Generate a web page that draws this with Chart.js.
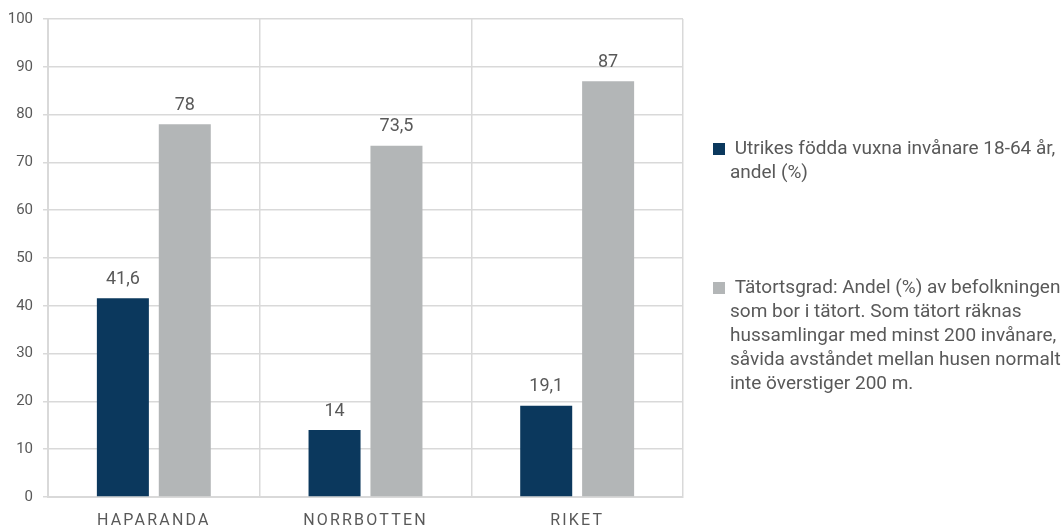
<!DOCTYPE html>
<html lang="sv">
<head>
<meta charset="utf-8">
<title>Utrikes födda och tätortsgrad</title>
<script src="https://cdn.jsdelivr.net/npm/chart.js@4/dist/chart.umd.min.js"></script>
<style>
  html, body { margin: 0; padding: 0; background: #ffffff; }
  #wrap { position: relative; width: 1064px; height: 529px; }
</style>
</head>
<body>
<div id="wrap"><canvas id="chart" width="1064" height="529"></canvas></div>
<script>
// Kategorier och serier
const categories = ['HAPARANDA', 'NORRBOTTEN', 'RIKET'];
const utrikesFodda = [41.6, 14, 19.1];
const tatortsgrad = [78, 73.5, 87];
const yTicks = [0, 10, 20, 30, 40, 50, 60, 70, 80, 90, 100];

// Förklaringstexter, radbrutna
const labelUtrikes = [' Utrikes födda vuxna invånare 18-64 år,', 'andel (%)'];
const labelTatort = [
  ' Tätortsgrad: Andel (%) av befolkningen',
  'som bor i tätort. Som tätort räknas',
  'hussamlingar med minst 200 invånare,',
  'såvida avståndet mellan husen normalt',
  'inte överstiger 200 m.'
];

const FONT = '"Roboto", "Liberation Sans", sans-serif';
const TEXT = '#595959';
const GRID = '#d9d9d9';
const NAVY = '#0b385d';
const GREY = '#b3b6b7';

const fmt = v => String(v).replace('.', ',');

// Värdeetiketter ovanför staplarna
const valueLabels = {
  id: 'valueLabels',
  afterDatasetsDraw(chart) {
    const ctx = chart.ctx;
    ctx.save();
    ctx.font = '18px ' + FONT;
    ctx.fillStyle = TEXT;
    ctx.textAlign = 'center';
    ctx.textBaseline = 'bottom';
    chart.data.datasets.forEach((ds, i) => {
      chart.getDatasetMeta(i).data.forEach((bar, j) => {
        ctx.fillText(fmt(ds.data[j]), bar.x, bar.y - 10);
      });
    });
    ctx.restore();
  }
};

// Spärrade kategorietiketter på x-axeln
const spacedLabels = {
  id: 'spacedLabels',
  beforeDraw(chart) {
    const s = chart.scales.x;
    if (s && !s.__spaced) {
      const orig = s.drawLabels.bind(s);
      s.drawLabels = (area) => {
        const c = s.ctx;
        c.save();
        c.letterSpacing = '2.2px';
        orig(area);
        c.restore();
      };
      s.__spaced = true;
    }
  }
};

// Förklaring till höger med flerradiga texter
const sideLegend = {
  id: 'sideLegend',
  afterDraw(chart) {
    const ctx = chart.ctx;
    const boxX = 713, textX = 730, lineH = 24, box = 12;
    const startY = [149, 288];
    ctx.save();
    ctx.font = '19px ' + FONT;
    ctx.textBaseline = 'middle';
    chart.data.datasets.forEach((ds, i) => {
      const y0 = startY[i];
      ctx.fillStyle = ds.backgroundColor;
      ctx.fillRect(boxX, y0 - box / 2, box, box);
      ctx.fillStyle = TEXT;
      ds.label.forEach((line, k) => {
        ctx.fillText(line, textX, y0 + k * lineH);
      });
    });
    ctx.restore();
  }
};

new Chart(document.getElementById('chart'), {
  type: 'bar',
  data: {
    labels: categories,
    datasets: [
      { label: labelUtrikes, data: utrikesFodda, backgroundColor: NAVY },
      { label: labelTatort, data: tatortsgrad, backgroundColor: GREY }
    ]
  },
  options: {
    responsive: false,
    animation: false,
    devicePixelRatio: 1,
    categoryPercentage: 0.585,
    barPercentage: 0.84,
    layout: { padding: { top: 17, right: 381, left: 0, bottom: 0 } },
    plugins: {
      legend: { display: false },
      tooltip: { enabled: false }
    },
    scales: {
      x: {
        offset: true,
        grid: {
          offset: true,
          color: GRID,
          lineWidth: 1.5,
          drawTicks: false
        },
        border: { color: GRID, width: 2 },
        ticks: {
          color: TEXT,
          font: { family: FONT, size: 16 },
          padding: 14,
          maxRotation: 0
        },
        afterFit(scale) { scale.height = 32; }
      },
      y: {
        min: 0,
        max: 100,
        afterBuildTicks(scale) { scale.ticks = yTicks.map(v => ({ value: v })); },
        grid: {
          color: GRID,
          lineWidth: 1.5,
          tickLength: 5
        },
        border: { color: GRID, width: 2 },
        ticks: {
          color: TEXT,
          font: { family: FONT, size: 15 },
          padding: 10
        },
        afterFit(scale) { scale.width = 48; }
      }
    }
  },
  plugins: [valueLabels, spacedLabels, sideLegend]
});
</script>
</body>
</html>
